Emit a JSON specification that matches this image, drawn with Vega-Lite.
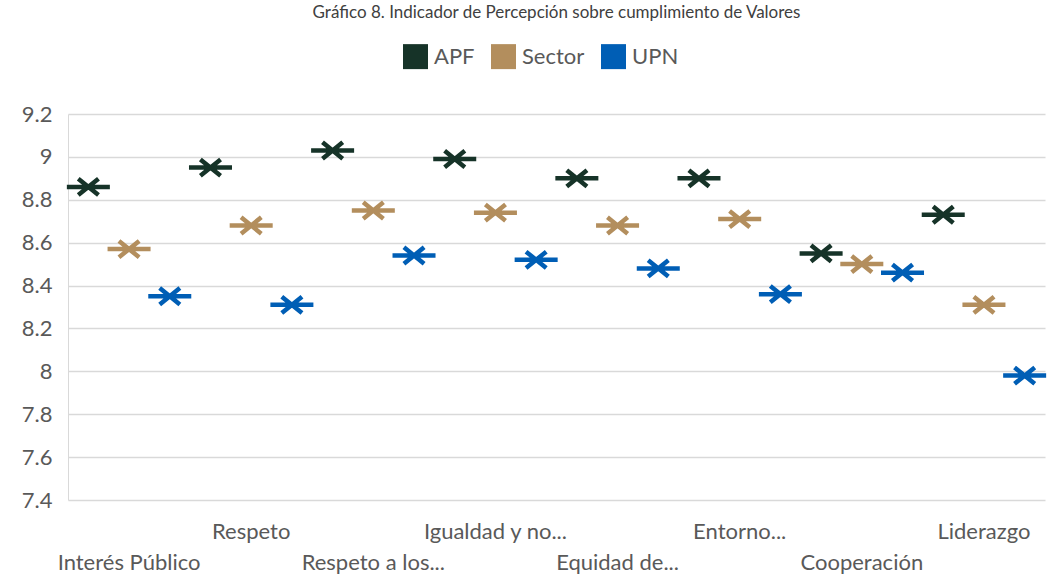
{
  "$schema": "https://vega.github.io/schema/vega-lite/v6.json",
  "width": 977,
  "height": 386,
  "autosize": {"type": "none"},
  "padding": {"left": 68, "top": 114, "right": 4, "bottom": 86},
  "background": "white",
  "title": {
    "text": "Gráfico 8. Indicador de Percepción sobre cumplimiento de Valores",
    "anchor": "middle",
    "font": "Lato",
    "fontSize": 17,
    "fontWeight": "normal",
    "color": "#404040",
    "offset": 22
  },
  "data": {
    "values": [
      {"valor": "Interés Público", "serie": "APF", "v": 8.86},
      {"valor": "Interés Público", "serie": "Sector", "v": 8.57},
      {"valor": "Interés Público", "serie": "UPN", "v": 8.35},
      {"valor": "Respeto", "serie": "APF", "v": 8.95},
      {"valor": "Respeto", "serie": "Sector", "v": 8.68},
      {"valor": "Respeto", "serie": "UPN", "v": 8.31},
      {"valor": "Respeto a los...", "serie": "APF", "v": 9.03},
      {"valor": "Respeto a los...", "serie": "Sector", "v": 8.75},
      {"valor": "Respeto a los...", "serie": "UPN", "v": 8.54},
      {"valor": "Igualdad y no...", "serie": "APF", "v": 8.99},
      {"valor": "Igualdad y no...", "serie": "Sector", "v": 8.74},
      {"valor": "Igualdad y no...", "serie": "UPN", "v": 8.52},
      {"valor": "Equidad de...", "serie": "APF", "v": 8.90},
      {"valor": "Equidad de...", "serie": "Sector", "v": 8.68},
      {"valor": "Equidad de...", "serie": "UPN", "v": 8.48},
      {"valor": "Entorno...", "serie": "APF", "v": 8.90},
      {"valor": "Entorno...", "serie": "Sector", "v": 8.71},
      {"valor": "Entorno...", "serie": "UPN", "v": 8.36},
      {"valor": "Cooperación", "serie": "APF", "v": 8.55},
      {"valor": "Cooperación", "serie": "Sector", "v": 8.50},
      {"valor": "Cooperación", "serie": "UPN", "v": 8.46},
      {"valor": "Liderazgo", "serie": "APF", "v": 8.73},
      {"valor": "Liderazgo", "serie": "Sector", "v": 8.31},
      {"valor": "Liderazgo", "serie": "UPN", "v": 7.98}
    ]
  },
  "mark": {
    "type": "point",
    "shape": "M-1,0L1,0M-0.47,-0.38L0.47,0.38M-0.47,0.38L0.47,-0.38",
    "size": 1850,
    "filled": false,
    "strokeWidth": 4.5,
    "opacity": 1
  },
  "encoding": {
    "x": {
      "field": "valor",
      "type": "nominal",
      "sort": null,
      "scale": {"paddingInner": 0, "paddingOuter": 0},
      "axis": {
        "title": null,
        "domain": false,
        "ticks": false,
        "grid": false,
        "labelAngle": 0,
        "labelFont": "Lato",
        "labelFontSize": 22,
        "labelColor": "#595959",
        "labelPadding": 21,
        "labelLineHeight": 31,
        "labelBaseline": "top",
        "labelOverlap": false,
        "labelBound": false,
        "labelExpr": "indexof(['Interés Público','Respeto a los...','Equidad de...','Cooperación'], datum.value) >= 0 ? ['', datum.value] : datum.value"
      }
    },
    "xOffset": {
      "field": "serie",
      "type": "nominal",
      "scale": {"type": "band", "domain": ["APF", "Sector", "UPN"], "paddingInner": 0, "paddingOuter": 0}
    },
    "y": {
      "field": "v",
      "type": "quantitative",
      "scale": {"domain": [7.4, 9.2], "zero": false, "nice": false},
      "axis": {
        "title": null,
        "values": [7.4, 7.6, 7.8, 8, 8.2, 8.4, 8.6, 8.8, 9, 9.2],
        "labelExpr": "format(datum.value, '.1~f')",
        "domain": true,
        "domainColor": "#D9D9D9",
        "ticks": false,
        "grid": true,
        "gridColor": "#D9D9D9",
        "gridWidth": 1.3,
        "labelFont": "Lato",
        "labelFontSize": 22,
        "labelColor": "#595959",
        "labelPadding": 16
      }
    },
    "color": {
      "field": "serie",
      "type": "nominal",
      "scale": {"domain": ["APF", "Sector", "UPN"], "range": ["#163328", "#B38E5D", "#005EB5"]},
      "legend": {
        "title": null,
        "orient": "none",
        "legendX": 335,
        "legendY": -70,
        "direction": "horizontal",
        "symbolType": "square",
        "symbolSize": 156,
        "symbolStrokeWidth": 12.5,
        "labelFont": "Lato",
        "labelFontSize": 22,
        "labelColor": "#595959",
        "labelOffset": 6,
        "columnPadding": -3
      }
    }
  },
  "config": {
    "view": {"stroke": null}
  }
}
